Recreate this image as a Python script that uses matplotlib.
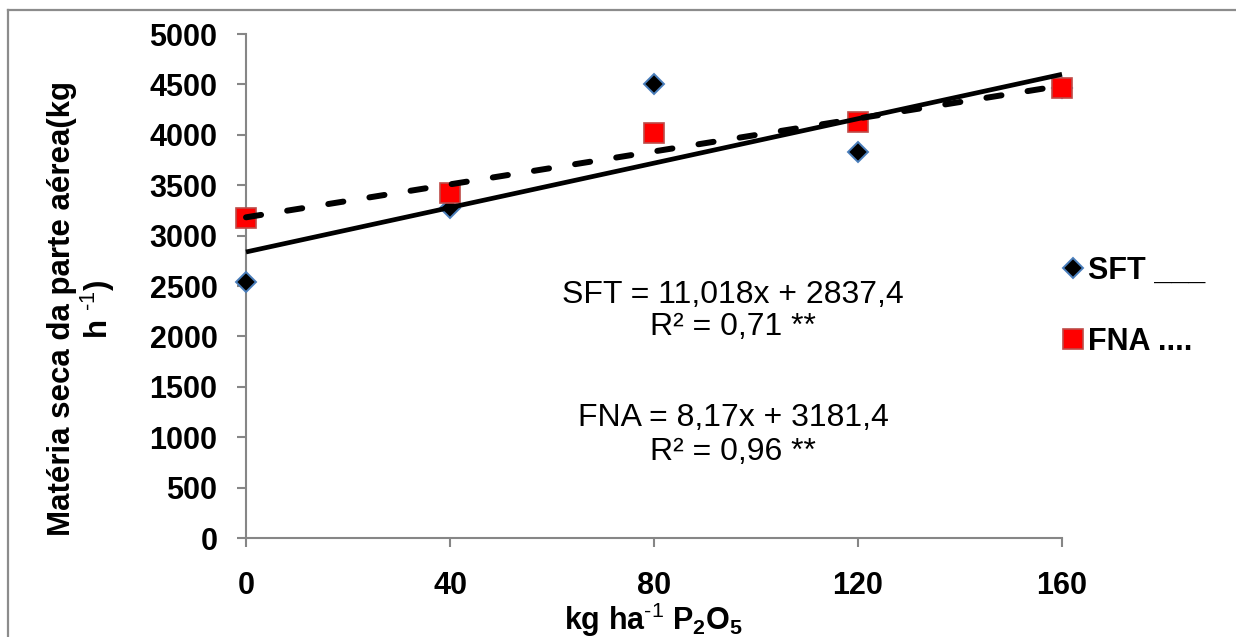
import numpy as np
import matplotlib
matplotlib.use("Agg")
import matplotlib.pyplot as plt
from matplotlib.lines import Line2D

plt.rcParams['font.family'] = ['Liberation Sans', 'DejaVu Sans']
plt.rcParams['mathtext.fontset'] = 'custom'
plt.rcParams['mathtext.rm'] = 'Liberation Sans'
plt.rcParams['mathtext.bf'] = 'Liberation Sans:bold'
plt.rcParams['mathtext.default'] = 'regular'
plt.rcParams['lines.scale_dashes'] = False

# ---- data ----
doses = [0, 40, 80, 120, 160]
sft = [2543, 3274, 4501, 3829, 4465]
fna = [3172, 3420, 4021, 4127, 4464]
sft_slope, sft_intercept = 11.018, 2837.4
fna_slope, fna_intercept = 8.17, 3181.4
x_ticks = [0, 40, 80, 120, 160]
y_ticks = [0, 500, 1000, 1500, 2000, 2500, 3000, 3500, 4000, 4500, 5000]
series_labels = ['SFT ___', 'FNA ....']
eq_sft = ['SFT = 11,018x + 2837,4', 'R² = 0,71 **']
eq_fna = ['FNA = 8,17x + 3181,4', 'R² = 0,96 **']

W, H = 1236, 637
fig = plt.figure(figsize=(W / 100, H / 100), dpi=100)
ax = fig.add_axes([246 / W, 1 - 538 / H, (1062 - 246) / W, (538 - 34) / H])

gray = '#868686'
fs = 22

# markers
ax.plot(doses, sft, linestyle='none', marker='D', ms=10, mfc='black', mec='#4a7ebb', mew=1.4,
        zorder=3, clip_on=False)
ax.plot(doses, fna, linestyle='none', marker='s', ms=14, mfc='#ff0000', mec='#be4b48', mew=1.2,
        zorder=4, clip_on=False)

# trend lines
xs = np.array([min(doses), max(doses)], dtype=float)
ax.plot(xs, sft_slope * xs + sft_intercept, color='black', lw=3.4, solid_capstyle='butt',
        zorder=5, clip_on=False)
ax.plot(xs, fna_slope * xs + fna_intercept, color='black', lw=4.3, dashes=(11, 19),
        dash_capstyle='round', zorder=5, clip_on=False)

ax.set_xlim(0, 160)
ax.set_ylim(0, 5000)
ax.set_xticks(x_ticks)
ax.set_yticks(y_ticks)
ax.set_xticklabels([str(v) for v in x_ticks], fontsize=fs, fontweight='bold')
ax.set_yticklabels([str(v) for v in y_ticks], fontsize=fs, fontweight='bold')
for s in ['top', 'right']:
    ax.spines[s].set_visible(False)
for s in ['left', 'bottom']:
    ax.spines[s].set_color(gray)
    ax.spines[s].set_linewidth(1.5)
ax.tick_params(axis='both', direction='out', length=6.5, width=1.5, color=gray)
ax.tick_params(axis='x', pad=17)
ax.tick_params(axis='y', pad=14)

# equations
efs = 23
ax.text(0.597, 0.482, eq_sft[0], transform=ax.transAxes, ha='center', va='center', fontsize=efs)
ax.text(0.597, 0.419, eq_sft[1], transform=ax.transAxes, ha='center', va='center', fontsize=efs)
ax.text(0.597, 0.238, eq_fna[0], transform=ax.transAxes, ha='center', va='center', fontsize=efs)
ax.text(0.597, 0.171, eq_fna[1], transform=ax.transAxes, ha='center', va='center', fontsize=efs)

# axis labels
fig.text(82 / W, 1 - 309 / H, 'Matéria seca da parte aérea(kg\nh $^{\\text{-1}}$)', rotation=90,
         ha='center', va='center', multialignment='center', fontsize=22.5, fontweight='bold',
         linespacing=1.05)
fig.text(654 / W, 1 - 630 / H, r'kg ha$^{\text{-1}}$ P$_2$O$_5$', ha='center', va='baseline',
         fontsize=fs, fontweight='bold')

# legend
handles = [
    Line2D([], [], linestyle='none', marker='D', ms=10, mfc='black', mec='#4a7ebb', mew=1.4),
    Line2D([], [], linestyle='none', marker='s', ms=14, mfc='#ff0000', mec='#be4b48', mew=1.2),
]
leg = fig.legend(handles, series_labels, loc='center left', bbox_to_anchor=(1065.5 / W, 1 - 306 / H),
                 frameon=False, numpoints=1, handlelength=0.5, handletextpad=0.25,
                 labelspacing=1.35, borderpad=0, borderaxespad=0,
                 prop={'size': fs, 'weight': 'bold'})

# outer border (partially visible)
fig.add_artist(Line2D([8 / W, 1.0], [1 - 10 / H, 1 - 10 / H], color='#8c8c8c', lw=1.6,
                      transform=fig.transFigure))
fig.add_artist(Line2D([8 / W, 8 / W], [0.0, 1 - 10 / H], color='#8c8c8c', lw=1.6,
                      transform=fig.transFigure))

fig.savefig('out.png', dpi=100, facecolor='white')
